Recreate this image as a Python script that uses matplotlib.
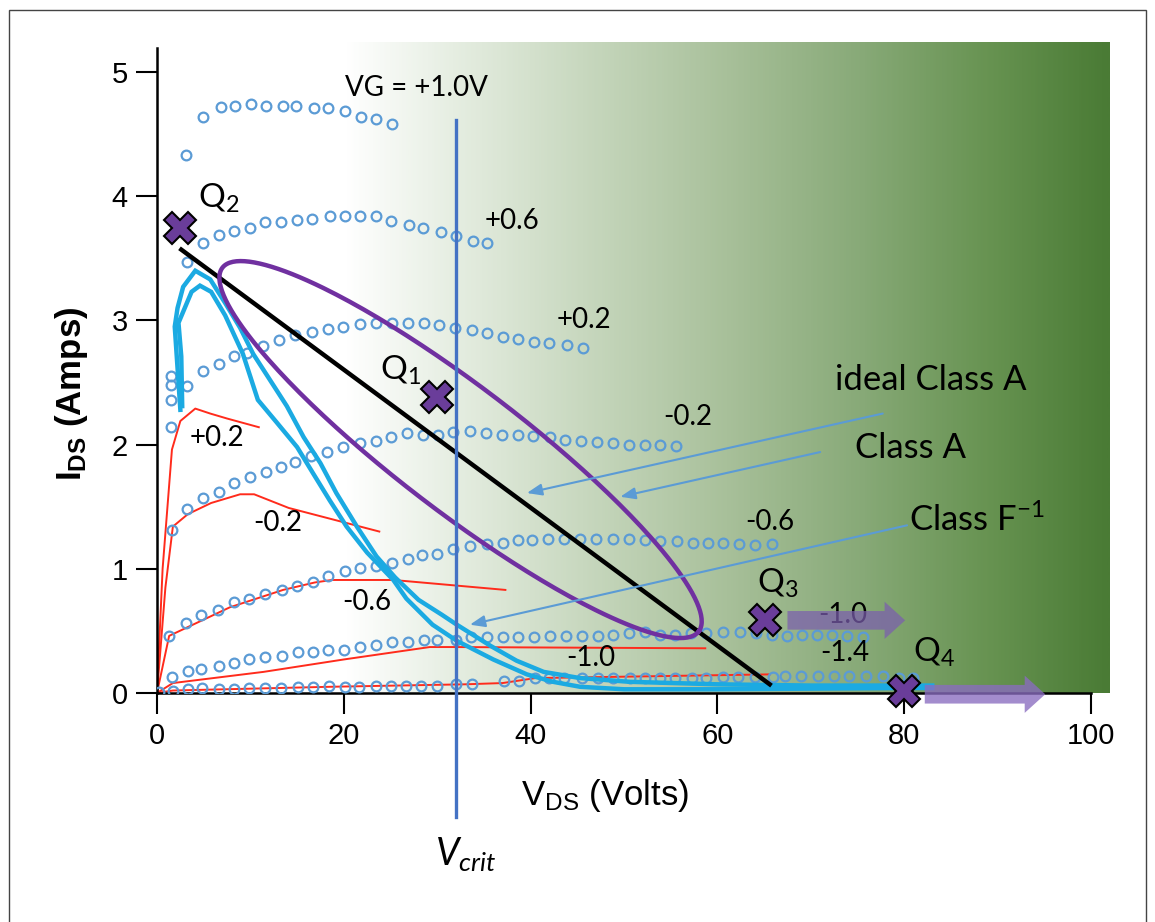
import numpy as np
import matplotlib.pyplot as plt
from matplotlib.colors import LinearSegmentedColormap
from matplotlib.patches import FancyArrow, Rectangle

plt.rcParams['mathtext.fontset'] = 'custom'
plt.rcParams['mathtext.rm'] = 'Liberation Sans'
plt.rcParams['mathtext.it'] = 'Lato:italic'

# pulsed I-V data, one list per gate step (V_DS volts, I_DS amps)
vg_p10_v = [3.1, 4.9, 6.8, 8.3, 10.1, 11.7, 13.5, 14.9, 16.8, 18.3, 20.1, 21.8, 23.5, 25.2]
vg_p10_i = [4.33, 4.64, 4.72, 4.73, 4.74, 4.73, 4.73, 4.73, 4.71, 4.71, 4.69, 4.64, 4.62, 4.58]

vg_p06_v = [3.2, 4.9, 6.6, 8.2, 10.0, 11.6, 13.3, 15.0, 16.6, 18.5, 20.1, 21.7, 23.4, 25.1,
            27.0, 28.5, 30.4, 32.0, 33.8, 35.3]
vg_p06_i = [3.47, 3.62, 3.69, 3.72, 3.74, 3.79, 3.79, 3.81, 3.82, 3.84, 3.84, 3.84, 3.84, 3.80,
            3.77, 3.74, 3.71, 3.68, 3.64, 3.62]

vg_p02_v = [1.5, 1.5, 1.5, 1.5, 3.2, 4.9, 6.6, 8.2, 9.6, 11.3, 13.1, 14.8, 16.6, 18.3, 19.9,
            21.7, 23.5, 25.2, 26.9, 28.6, 30.2, 31.9, 33.7, 35.3, 37.0, 38.7, 40.4, 42.0, 43.9, 45.6]
vg_p02_i = [2.14, 2.36, 2.48, 2.55, 2.47, 2.59, 2.65, 2.71, 2.74, 2.79, 2.84, 2.88, 2.91, 2.93, 2.95,
            2.97, 2.98, 2.98, 2.98, 2.98, 2.96, 2.94, 2.92, 2.90, 2.87, 2.85, 2.83, 2.82, 2.80, 2.78]

vg_m02_v = [1.6, 3.2, 4.9, 6.6, 8.2, 10.0, 11.7, 13.3, 14.8, 16.5, 18.2, 19.9, 21.7, 23.4, 25.1,
            26.8, 28.5, 30.1, 31.7, 33.5, 35.2, 36.9, 38.6, 40.3, 42.1, 43.7, 45.4, 47.1, 48.8,
            50.5, 52.2, 53.9, 55.6]
vg_m02_i = [1.31, 1.48, 1.57, 1.62, 1.69, 1.74, 1.78, 1.82, 1.86, 1.91, 1.94, 1.98, 2.01, 2.03, 2.06,
            2.09, 2.08, 2.08, 2.10, 2.11, 2.09, 2.08, 2.08, 2.07, 2.06, 2.04, 2.03, 2.02, 2.01,
            2.00, 2.00, 2.00, 1.99]

vg_m06_v = [1.3, 3.1, 4.7, 6.5, 8.2, 9.8, 11.6, 13.4, 15.0, 16.7, 18.3, 20.1, 21.7, 23.4, 25.2,
            26.9, 28.4, 30.0, 31.7, 33.5, 35.3, 37.0, 38.6, 40.2, 41.9, 43.6, 45.3, 47.0, 48.8,
            50.5, 52.2, 53.9, 55.7, 57.4, 59.0, 60.6, 62.3, 64.0, 65.8]
vg_m06_i = [0.46, 0.56, 0.63, 0.67, 0.73, 0.76, 0.80, 0.83, 0.86, 0.89, 0.94, 0.98, 1.01, 1.02, 1.05,
            1.08, 1.11, 1.12, 1.16, 1.18, 1.20, 1.21, 1.23, 1.23, 1.24, 1.24, 1.24, 1.24, 1.24,
            1.24, 1.23, 1.22, 1.22, 1.21, 1.21, 1.21, 1.20, 1.19, 1.20]

vg_m10_v = [1.6, 3.3, 4.7, 6.6, 8.2, 9.9, 11.6, 13.4, 15.1, 16.7, 18.3, 20.0, 21.7, 23.5, 25.2,
            26.9, 28.6, 30.0, 32.0, 33.6, 35.3, 37.0, 38.7, 40.4, 42.1, 43.8, 45.5, 47.2, 48.8,
            50.5, 52.2, 53.9, 55.5, 57.2, 58.8, 60.6, 62.4, 64.1, 65.8, 67.5, 69.1, 70.7, 72.3,
            73.9, 75.6]
vg_m10_i = [0.13, 0.18, 0.19, 0.22, 0.24, 0.27, 0.29, 0.30, 0.33, 0.33, 0.35, 0.35, 0.37, 0.39, 0.41,
            0.41, 0.43, 0.43, 0.43, 0.45, 0.45, 0.45, 0.45, 0.45, 0.46, 0.46, 0.46, 0.46, 0.47,
            0.48, 0.49, 0.47, 0.47, 0.48, 0.48, 0.49, 0.49, 0.48, 0.47, 0.46, 0.47, 0.47, 0.47,
            0.46, 0.45]

vg_m14_v = [0.2, 1.7, 3.3, 4.8, 6.6, 8.2, 9.9, 11.6, 13.3, 15.1, 16.7, 18.4, 20.1, 21.6, 23.5,
            25.1, 26.7, 28.3, 30.0, 32.0, 33.7, 37.1, 38.8, 40.5, 42.0, 43.6, 45.5, 47.2, 48.8,
            50.6, 52.2, 53.9, 55.5, 57.3, 58.8, 60.6, 62.2, 64.0, 65.9, 67.2, 69.0, 70.8, 72.5,
            74.1, 75.9, 77.7, 79.4, 80.9]
vg_m14_i = [0.01, 0.02, 0.03, 0.04, 0.03, 0.03, 0.04, 0.04, 0.04, 0.05, 0.05, 0.06, 0.05, 0.05, 0.06,
            0.06, 0.06, 0.06, 0.06, 0.07, 0.07, 0.10, 0.10, 0.12, 0.12, 0.12, 0.12, 0.12, 0.12,
            0.12, 0.12, 0.12, 0.12, 0.12, 0.12, 0.13, 0.13, 0.13, 0.13, 0.14, 0.14, 0.14, 0.14,
            0.14, 0.14, 0.14, 0.12, 0.12]

# DC curves (red)
dc_p02_v = [0, 0.6, 1.6, 2.5, 4.1, 5.7, 7.5, 10.9]
dc_p02_i = [0, 1.0, 1.96, 2.19, 2.29, 2.25, 2.21, 2.14]
dc_m02_v = [0, 0.9, 1.7, 3.3, 5.8, 8.9, 10.4, 14.1, 23.8]
dc_m02_i = [0, 0.85, 1.34, 1.44, 1.53, 1.60, 1.60, 1.49, 1.30]
dc_m06_v = [0, 1.3, 7.8, 13.5, 16.9, 18.7, 25.3, 37.3]
dc_m06_i = [0, 0.46, 0.69, 0.83, 0.89, 0.91, 0.91, 0.83]
dc_m10_v = [0, 1.7, 11.4, 20.0, 29.2, 31.7, 58.7]
dc_m10_i = [0, 0.08, 0.17, 0.27, 0.37, 0.37, 0.36]
dc_m14_v = [0, 1.7, 18.5, 33.0, 37.0, 40.5, 65.6]
dc_m14_i = [0, 0.02, 0.05, 0.07, 0.08, 0.12, 0.15]

# RF load-line loops (cyan)
loop_a_v = [2.5, 1.9, 2.2, 2.8, 4.1, 5.7, 7.3, 8.9, 10.3, 12.1, 13.9, 15.7, 17.5, 19.2, 21.4,
            23.5, 25.5, 28.0, 30.5, 32.1, 35.7, 38.5, 41.4, 45.3, 50.6, 60.0, 70.0, 83.0]
loop_a_i = [2.28, 2.95, 3.10, 3.27, 3.40, 3.33, 3.14, 2.94, 2.73, 2.52, 2.31, 2.06, 1.85, 1.61, 1.34,
            1.10, 0.93, 0.75, 0.63, 0.55, 0.38, 0.26, 0.17, 0.12, 0.09, 0.07, 0.06, 0.06]
loop_b_v = [2.7, 2.6, 2.3, 3.7, 4.6, 5.8, 7.3, 9.2, 10.8, 12.8, 15.0, 16.7, 18.5, 20.3, 22.5,
            25.3, 26.7, 29.5, 32.1, 36.0, 39.6, 42.4, 45.3, 50.0, 60.0, 80.0, 83.0]
loop_b_i = [2.31, 2.71, 2.98, 3.23, 3.28, 3.23, 3.04, 2.73, 2.36, 2.18, 1.98, 1.77, 1.55, 1.34, 1.13,
            0.91, 0.76, 0.55, 0.42, 0.27, 0.15, 0.09, 0.05, 0.03, 0.03, 0.04, 0.04]

# ideal class A load line
load_v = [2.6, 65.6]
load_i = [3.57, 0.07]

# class A ellipse: centre, half major axis, half minor axis (data units)
ell_c = (32.5, 1.96)
ell_major = (25.5, -1.464)
ell_minor = (-4.05, -0.40)

# quiescent points
q_names = ['1', '2', '3', '4']
q_v = [30.0, 2.5, 65.1, 80.0]
q_i = [2.38, 3.74, 0.59, 0.02]
q_label_pos = [(23.9, 2.60), (4.4, 3.98), (64.2, 0.88), (80.9, 0.33)]

v_crit = 32.0

circle_col = '#5B9BD5'
red_col = '#FF2B1C'
cyan_col = '#1BAAE2'
purple_col = '#7030A0'
q_col = '#6A3D9A'

fig = plt.figure(figsize=(11.55, 9.22), dpi=100)
ax = fig.add_axes([157 / 1155, 229 / 922, 952.7 / 1155, 650.8 / 922])
ax.set_xlim(0, 102)
ax.set_ylim(0, 5.24)

# green background shading
cmap = LinearSegmentedColormap.from_list('bg', [
    (0.0, '#FFFFFF'), (0.14, '#E6EEE2'), (0.31, '#C8D8BF'), (0.5, '#A8C09A'),
    (0.68, '#87A977'), (0.85, '#669250'), (1.0, '#4A7B35')])
ax.imshow(np.linspace(0, 1, 400).reshape(1, -1), extent=(20, 102, 0, 5.24),
          aspect='auto', cmap=cmap, zorder=0)

for v, i in [(dc_p02_v, dc_p02_i), (dc_m02_v, dc_m02_i), (dc_m06_v, dc_m06_i),
             (dc_m10_v, dc_m10_i), (dc_m14_v, dc_m14_i)]:
    ax.plot(v, i, color=red_col, lw=1.4, zorder=2)

for v, i in [(vg_p10_v, vg_p10_i), (vg_p06_v, vg_p06_i), (vg_p02_v, vg_p02_i),
             (vg_m02_v, vg_m02_i), (vg_m06_v, vg_m06_i), (vg_m10_v, vg_m10_i),
             (vg_m14_v, vg_m14_i)]:
    ax.plot(v, i, 'o', ms=7, mfc='none', mec=circle_col, mew=1.6, zorder=3)

ax.plot(loop_a_v, loop_a_i, color=cyan_col, lw=3.2, zorder=4, solid_joinstyle='miter')
ax.plot(loop_b_v, loop_b_i, color=cyan_col, lw=3.2, zorder=4, solid_joinstyle='miter')

ax.plot(load_v, load_i, color='black', lw=3.2, zorder=5)

t = np.linspace(0, 2 * np.pi, 300)
ex = ell_c[0] + ell_major[0] * np.cos(t) + ell_minor[0] * np.sin(t)
ey = ell_c[1] + ell_major[1] * np.cos(t) + ell_minor[1] * np.sin(t)
ax.plot(ex, ey, color=purple_col, lw=3.2, zorder=5)

ax.plot([v_crit, v_crit], [-1.0, 4.61], color='#4472C4', lw=2.4, zorder=6, clip_on=False)

# pointer arrows for the load-line labels
pointers = [((77.7, 2.25), (39.6, 1.61)), ((71.0, 1.94), (49.6, 1.58)), ((80.3, 1.35), (33.5, 0.55))]
for start, end in pointers:
    ax.annotate('', xy=end, xytext=start, zorder=6,
                arrowprops=dict(arrowstyle='-|>,head_length=0.9,head_width=0.35',
                                color=circle_col, lw=1.5, shrinkA=0, shrinkB=0))

lab_font = 'Lato'
ax.text(72.6, 2.52, 'ideal Class A', fontsize=25, family=lab_font, va='center', zorder=7)
ax.text(74.7, 1.97, 'Class A', fontsize=25, family=lab_font, va='center', zorder=7)
ax.text(80.5, 1.39, r'Class F$^{\mathregular{-1}}$', fontsize=25, family=lab_font, va='center', zorder=7)

curve_labels = [(20.1, 4.87, 'VG = +1.0V'), (35.1, 3.80, '+0.6'), (42.8, 3.00, '+0.2'),
                (54.2, 2.22, '-0.2'), (63.0, 1.38, '-0.6'), (70.8, 0.63, '-1.0'),
                (71.0, 0.32, '-1.4'), (43.8, 0.28, '-1.0'),
                (3.5, 2.05, '+0.2'), (10.3, 1.37, '-0.2'), (19.8, 0.73, '-0.6')]
for x, y, s in curve_labels:
    ax.text(x, y, s, fontsize=20, family=lab_font, va='center', zorder=7)

ax.plot(q_v, q_i, 'X', ms=23, mfc=q_col, mec='black', mew=1.5, zorder=8, clip_on=False)
for name, (x, y) in zip(q_names, q_label_pos):
    ax.text(x, y, r'Q$_{\mathregular{%s}}$' % name, fontsize=24, family=lab_font,
            va='center', zorder=8)

ax.add_patch(FancyArrow(67.5, 0.585, 12.6, 0, width=0.15, head_width=0.30, head_length=2.2,
                        length_includes_head=True, color='#7B5EAE', alpha=0.72, lw=0, zorder=9))
ax.add_patch(FancyArrow(82.2, -0.01, 12.9, 0, width=0.15, head_width=0.30, head_length=2.2,
                        length_includes_head=True, color='#8A6CC0', alpha=0.78, lw=0,
                        zorder=9, clip_on=False))

for side in ['top', 'right']:
    ax.spines[side].set_visible(False)
ax.spines['left'].set_bounds(0, 5.19)
ax.spines['bottom'].set_bounds(0, 100)
ax.spines['left'].set_linewidth(1.8)
ax.spines['bottom'].set_linewidth(1.8)
ax.set_xticks([0, 20, 40, 60, 80, 100])
ax.set_yticks([0, 1, 2, 3, 4, 5])
ax.tick_params(length=15, width=1.5, labelsize=21, pad=6)
for lab in ax.get_xticklabels() + ax.get_yticklabels():
    lab.set_family('Liberation Sans')

ax.text(0.47, -0.157, r'V$_{\mathregular{DS}}$ (Volts)', transform=ax.transAxes,
        fontsize=25, family='Liberation Sans', ha='center', va='center')
ax.text(-0.09, 0.46, r'I$_{\mathregular{DS}}$ (Amps)', transform=ax.transAxes, rotation=90,
        fontsize=25, family='Liberation Sans', weight='bold', ha='center', va='center')
ax.text(v_crit + 1.0, -1.30, r'$V_{crit}$', fontsize=27, ha='center', va='center')

fig.add_artist(Rectangle((9 / 1155, -0.05), 1137 / 1155, 0.989 + 0.05, transform=fig.transFigure,
                         fill=False, edgecolor='#444444', lw=1))

fig.savefig('out.png', dpi=100)
